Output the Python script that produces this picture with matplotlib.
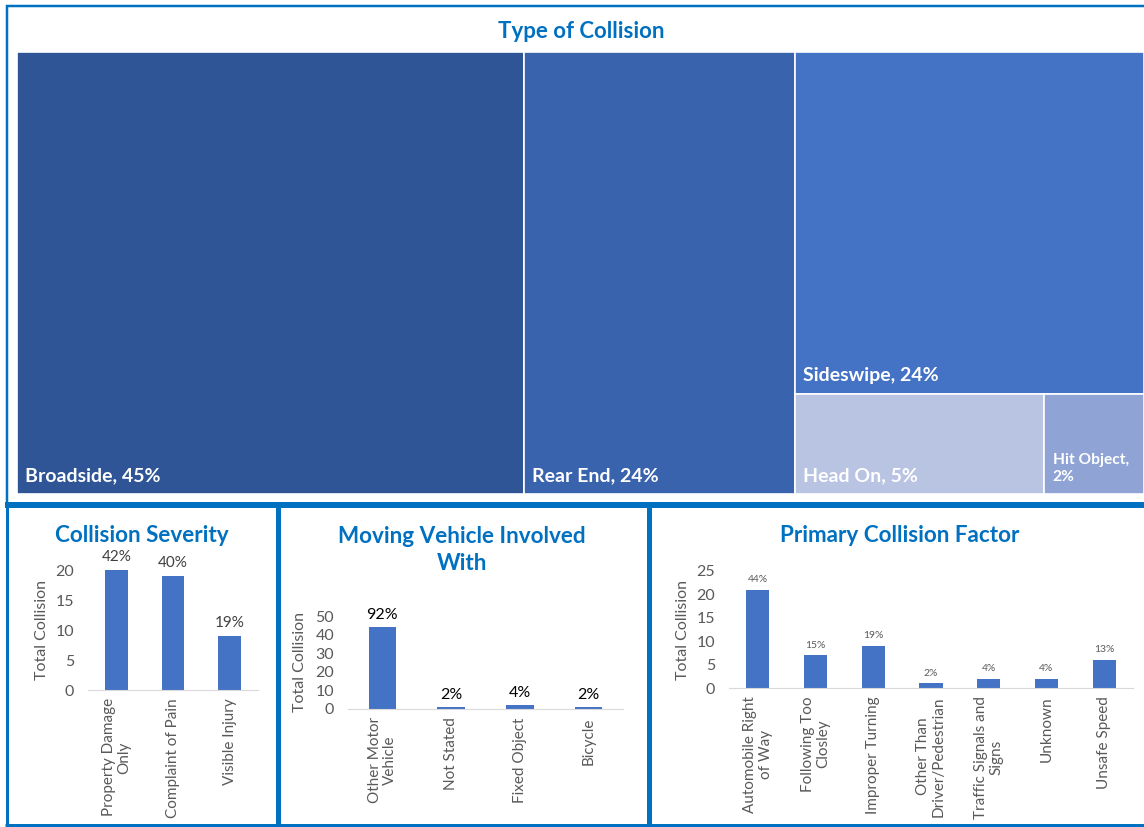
import matplotlib.pyplot as plt
from matplotlib.patches import Rectangle
from matplotlib.lines import Line2D

plt.rcParams['font.family'] = ['Lato', 'DejaVu Sans']

# ---- data ----
collision_types = ['Broadside', 'Rear End', 'Sideswipe', 'Head On', 'Hit Object']
collision_type_pct = [45, 24, 24, 5, 2]
type_colors = ['#2F5597', '#3A63AD', '#4472C4', '#B9C3E2', '#8FA3D5']

severity_labels = ['Property Damage\nOnly', 'Complaint of Pain', 'Visible Injury']
severity_counts = [20, 19, 9]
severity_pct = ['42%', '40%', '19%']

vehicle_labels = ['Other Motor\nVehicle', 'Not Stated', 'Fixed Object', 'Bicycle']
vehicle_counts = [44, 1, 2, 1]
vehicle_pct = ['92%', '2%', '4%', '2%']

factor_labels = ['Automobile Right\nof Way', 'Following Too\nClosley', 'Improper Turning',
                 'Other Than\nDriver/Pedestrian', 'Traffic Signals and\nSigns', 'Unknown',
                 'Unsafe Speed']
factor_counts = [21, 7, 9, 1, 2, 2, 6]
factor_pct = ['44%', '15%', '19%', '2%', '4%', '4%', '13%']

W, H = 1144, 827
BLUE = '#0070C0'
BAR = '#4472C4'
GREY = '#595959'


def px(x0, y0, x1, y1):
    return [x0 / W, 1 - y1 / H, (x1 - x0) / W, (y1 - y0) / H]


fig = plt.figure(figsize=(W / 100, H / 100), dpi=100)


def hline(y, x0, x1, lw):
    fig.add_artist(Line2D([x0 / W, x1 / W], [1 - y / H, 1 - y / H], color=BLUE,
                          lw=lw * 0.72, transform=fig.transFigure, solid_capstyle='butt'))


def vline(x, y0, y1, lw):
    fig.add_artist(Line2D([x / W, x / W], [1 - y0 / H, 1 - y1 / H], color=BLUE,
                          lw=lw * 0.72, transform=fig.transFigure, solid_capstyle='butt'))


# panel borders
hline(6, 6, W, 2.5)
vline(7, 5, 505, 2.5)
hline(505, 5, W, 6)
vline(7, 505, 827, 3)
vline(277.5, 505, 827, 5)
vline(648.5, 505, 827, 5)
hline(825, 5, W, 3)

# ---- treemap ----
fig.text(581 / W, 1 - 31 / H, 'Type of Collision', ha='center', va='center',
         fontsize=16, fontweight='bold', color=BLUE)

ax = fig.add_axes(px(17, 52, 1144, 494))
total = sum(collision_type_pct)
ax.set_xlim(0, total)
ax.set_ylim(1, 0)
ax.axis('off')

b, r, s, h, o = collision_type_pct
col_w = s + h + o
rects = [
    (0, 0, b, 1),
    (b, 0, r, 1),
    (b + r, 0, col_w, s / col_w),
    (b + r, s / col_w, col_w * h / (h + o), (h + o) / col_w),
    (b + r + col_w * h / (h + o), s / col_w, col_w * o / (h + o), (h + o) / col_w),
]
for (x, y, w, hh), name, pct, c in zip(rects, collision_types, collision_type_pct, type_colors):
    ax.add_patch(Rectangle((x, y), w, hh, facecolor=c, edgecolor='white', lw=1.2))
    if name == 'Hit Object':
        txt, fs = f'{name},\n{pct}%', 11.2
    else:
        txt, fs = f'{name}, {pct}%', 14
    ax.annotate(txt, (x, y + hh), xytext=(6, 7), textcoords='offset points',
                ha='left', va='bottom', color='white', fontsize=fs, fontweight='bold',
                linespacing=1.3)


# ---- bar charts ----
def bar_panel(rect, labels, counts, pcts, ymax, step, title, title_xy, ylab_x,
              pct_fs, pct_color, tick_fs=11):
    ax = fig.add_axes(px(*rect))
    xs = range(len(counts))
    bars = ax.bar(xs, counts, width=0.4, color=BAR)
    ax.bar_label(bars, labels=pcts, padding=4, fontsize=pct_fs, color=pct_color)
    ax.set_xlim(-0.5, len(counts) - 0.5)
    ax.set_ylim(0, ymax)
    ax.set_yticks(range(0, ymax + 1, step))
    ax.set_xticks(list(xs))
    ax.set_xticklabels(labels, rotation=90, ha='center', va='top', multialignment='center',
                       fontsize=tick_fs, color=GREY, linespacing=1.15)
    ax.tick_params(axis='y', length=0, labelsize=11.5, labelcolor=GREY, pad=10)
    ax.tick_params(axis='x', length=0, pad=6)
    for sp in ['top', 'right', 'left']:
        ax.spines[sp].set_visible(False)
    ax.spines['bottom'].set_color('#D9D9D9')
    fig.text(ylab_x / W, 1 - (rect[1] + rect[3]) / 2 / H, 'Total Collision', rotation=90,
             ha='center', va='center', fontsize=11.5, color=GREY)
    fig.text(title_xy[0] / W, 1 - title_xy[1] / H, title, ha='center', va='center',
             fontsize=16.2, fontweight='bold', color=BLUE, linespacing=1.3)
    return ax


bar_panel((88, 570, 258, 690), severity_labels, severity_counts, severity_pct, 20, 5,
          'Collision Severity', (142, 535), 42, 11, '#404040')
bar_panel((348, 616, 623, 709), vehicle_labels, vehicle_counts, vehicle_pct, 50, 10,
          'Moving Vehicle Involved\nWith', (462, 550), 300, 11.5, 'black')
bar_panel((729, 571, 1133, 688), factor_labels, factor_counts, factor_pct, 25, 5,
          'Primary Collision Factor', (900, 536), 683, 7.5, GREY)

fig.savefig('out.png', dpi=100)
